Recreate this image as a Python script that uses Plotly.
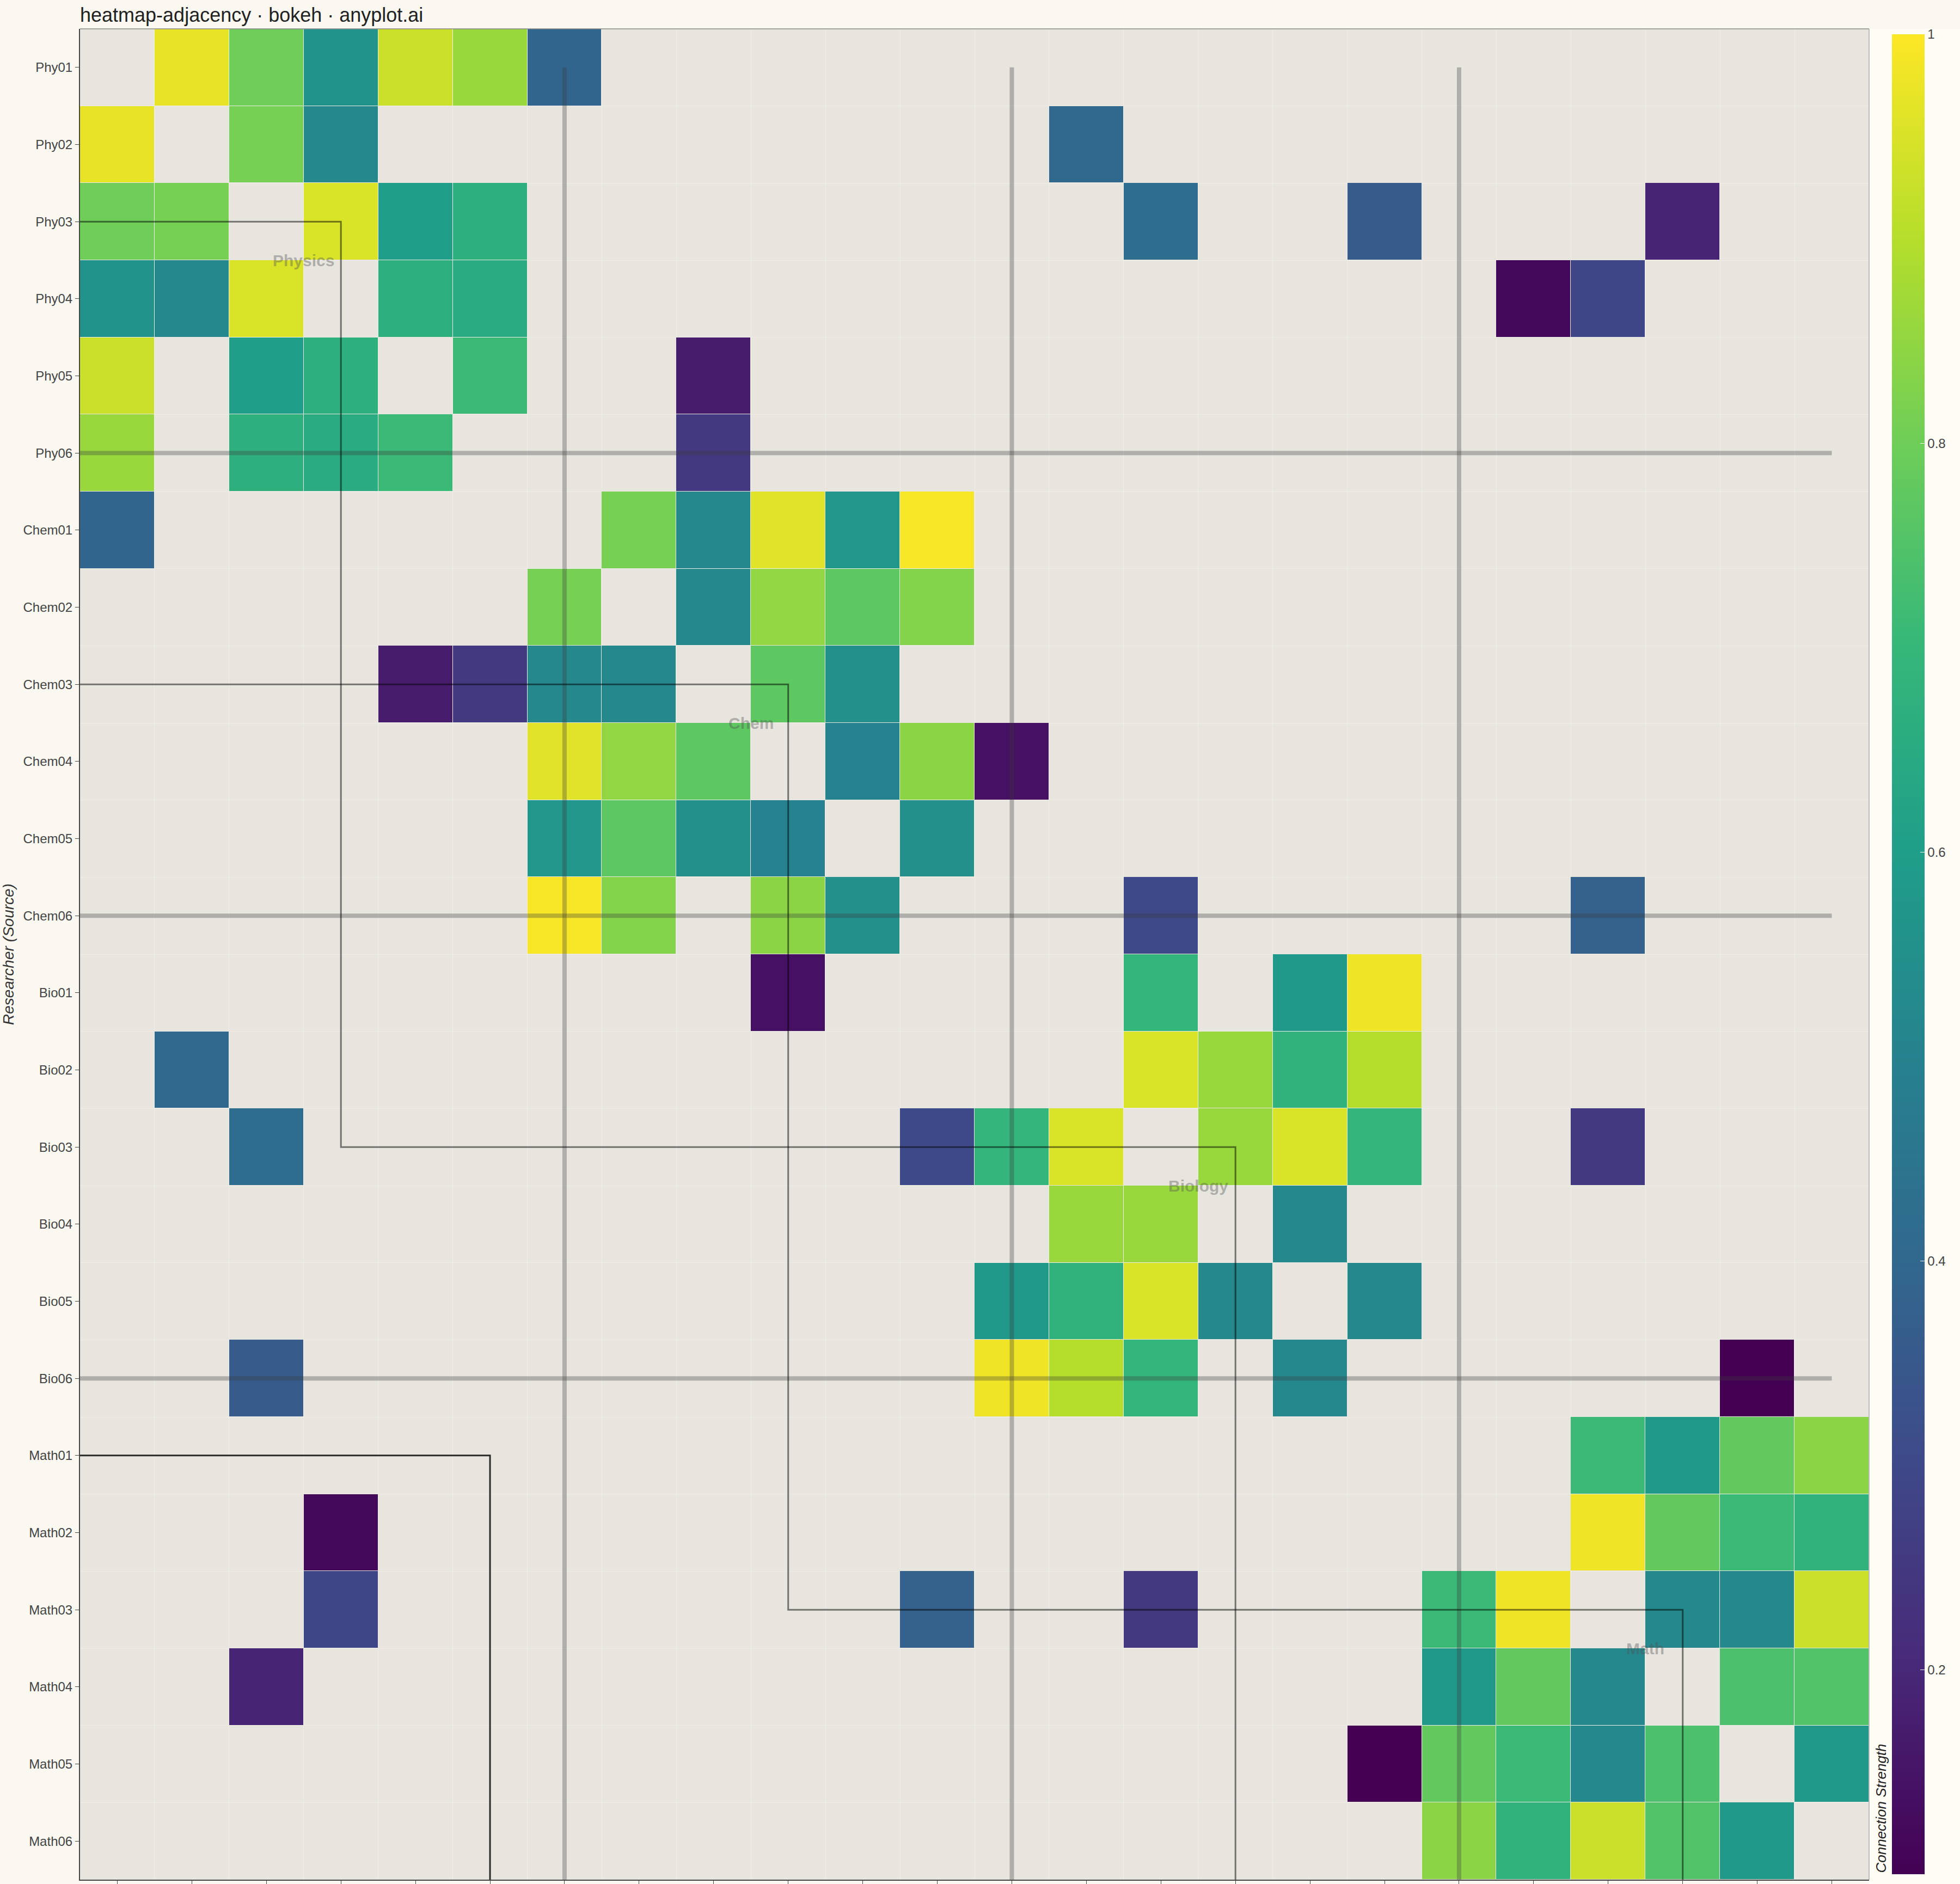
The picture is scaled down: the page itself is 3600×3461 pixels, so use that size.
import numpy as np
import plotly.graph_objects as go

# researchers grouped by department (6 each)
researchers = [
    "Phy01", "Phy02", "Phy03", "Phy04", "Phy05", "Phy06",
    "Chem01", "Chem02", "Chem03", "Chem04", "Chem05", "Chem06",
    "Bio01", "Bio02", "Bio03", "Bio04", "Bio05", "Bio06",
    "Math01", "Math02", "Math03", "Math04", "Math05", "Math06",
]
group_names = ["Physics", "Chem", "Biology", "Math"]
group_size = 6

# symmetric collaboration edges (upper triangle)
edge_source = [
    "Phy01", "Phy01", "Phy01", "Phy01", "Phy01", "Phy01",
    "Phy02", "Phy02", "Phy02",
    "Phy03", "Phy03", "Phy03", "Phy03", "Phy03", "Phy03",
    "Phy04", "Phy04", "Phy04", "Phy04",
    "Phy05", "Phy05", "Phy06",
    "Chem01", "Chem01", "Chem01", "Chem01", "Chem01",
    "Chem02", "Chem02", "Chem02", "Chem02",
    "Chem03", "Chem03",
    "Chem04", "Chem04", "Chem04",
    "Chem05", "Chem06", "Chem06",
    "Bio01", "Bio01", "Bio01",
    "Bio02", "Bio02", "Bio02", "Bio02",
    "Bio03", "Bio03", "Bio03", "Bio03",
    "Bio04", "Bio05", "Bio06",
    "Math01", "Math01", "Math01", "Math01",
    "Math02", "Math02", "Math02", "Math02",
    "Math03", "Math03", "Math03",
    "Math04", "Math04", "Math05",
]
edge_target = [
    "Phy02", "Phy03", "Phy04", "Phy05", "Phy06", "Chem01",
    "Phy03", "Phy04", "Bio02",
    "Phy04", "Phy05", "Phy06", "Bio03", "Bio06", "Math04",
    "Phy05", "Phy06", "Math02", "Math03",
    "Phy06", "Chem03", "Chem03",
    "Chem02", "Chem03", "Chem04", "Chem05", "Chem06",
    "Chem03", "Chem04", "Chem05", "Chem06",
    "Chem04", "Chem05",
    "Chem05", "Chem06", "Bio01",
    "Chem06", "Bio03", "Math03",
    "Bio03", "Bio05", "Bio06",
    "Bio03", "Bio04", "Bio05", "Bio06",
    "Bio04", "Bio05", "Bio06", "Math03",
    "Bio05", "Bio06", "Math05",
    "Math03", "Math04", "Math05", "Math06",
    "Math03", "Math04", "Math05", "Math06",
    "Math04", "Math05", "Math06",
    "Math05", "Math06", "Math06",
]
edge_strength = [
    0.97, 0.80, 0.56, 0.93, 0.86, 0.39,
    0.81, 0.52, 0.40,
    0.95, 0.60, 0.67, 0.42, 0.36, 0.19,
    0.67, 0.65, 0.12, 0.29,
    0.71, 0.17, 0.25,
    0.81, 0.52, 0.96, 0.57, 0.99,
    0.52, 0.85, 0.77, 0.83,
    0.77, 0.55,
    0.50, 0.84, 0.14,
    0.55, 0.30, 0.38,
    0.69, 0.58, 0.98,
    0.95, 0.86, 0.68, 0.90,
    0.86, 0.95, 0.69, 0.25,
    0.52, 0.52, 0.10,
    0.71, 0.58, 0.78, 0.84,
    0.98, 0.78, 0.71, 0.68,
    0.52, 0.52, 0.93,
    0.74, 0.75, 0.58,
]

n = len(researchers)
idx = {name: i for i, name in enumerate(researchers)}
matrix = np.full((n, n), np.nan)
for s, t, w in zip(edge_source, edge_target, edge_strength):
    matrix[idx[s], idx[t]] = w
    matrix[idx[t], idx[s]] = w

W, H = 3600, 3461
ml, mr, mt, mb = 147, 167, 53, 8
pw, ph = W - ml - mr, H - mt - mb
font = "Liberation Sans, Arial, Helvetica, sans-serif"

fig = go.Figure()
fig.add_trace(go.Heatmap(
    z=matrix,
    x=list(range(n)),
    y=list(range(n)),
    colorscale="Viridis",
    zmin=0.1, zmax=1.0,
    xgap=1, ygap=1,
    hoverongaps=False,
    colorbar=dict(
        x=1 + 42 / pw, xanchor="left", xpad=0,
        y=1 - 10 / ph, yanchor="top", ypad=0,
        len=3380, lenmode="pixels",
        thickness=60, outlinewidth=0,
        tickvals=[0.2, 0.4, 0.6, 0.8, 1.0],
        ticktext=["0.2", "0.4", "0.6", "0.8", "1"],
        ticks="inside", ticklen=8, tickcolor="white",
        tickfont=dict(size=24, color="#444", family=font),
    ),
))

shapes = []
# light panel behind the colour bar
shapes.append(dict(type="rect", xref="paper", yref="paper", x0=1, x1=1 + mr / pw,
                   y0=-mb / ph, y1=1, fillcolor="#FFFDF6", line=dict(width=0), layer="below"))

# group separators (drawn as in the source image)
for k in range(1, len(group_names)):
    b = k * group_size
    shapes.append(dict(type="line", xref="x", yref="y", x0=b, x1=b, y0=0, y1=n - 0.5,
                       line=dict(color="rgba(60,60,60,0.32)", width=8)))
    shapes.append(dict(type="line", xref="x", yref="y", x0=-0.5, x1=n - 1, y0=b - 1, y1=b - 1,
                       line=dict(color="rgba(60,60,60,0.32)", width=8)))

# block outlines
outline_paths = [
    [(-0.5, 2), (3, 2), (3, 14), (15, 14), (15, 23.5)],
    [(-0.5, 8), (9, 8), (9, 20), (21, 20), (21, 23.5)],
    [(-0.5, 18), (5, 18), (5, 23.5)],
]
outline_alpha = [0.5, 0.5, 0.82]
for pts, a in zip(outline_paths, outline_alpha):
    path = "M " + " L ".join(f"{x},{y}" for x, y in pts)
    shapes.append(dict(type="path", xref="x", yref="y", path=path,
                       line=dict(color=f"rgba(0,0,0,{a})", width=3)))

# top / right frame
shapes.append(dict(type="line", xref="paper", yref="paper", x0=0, x1=1, y0=1, y1=1,
                   line=dict(color="#888", width=1.5)))
shapes.append(dict(type="line", xref="paper", yref="paper", x0=1, x1=1, y0=0, y1=1,
                   line=dict(color="#aaa", width=1.5)))

annotations = []
for g, name in enumerate(group_names):
    c = g * group_size + (group_size - 1) / 2
    annotations.append(dict(x=c, y=c, xref="x", yref="y", text=name, showarrow=False,
                            font=dict(size=30, color="rgba(80,80,80,0.4)", family=font, weight="bold")))
annotations.append(dict(
    x=1 + 38 / pw, xref="paper", xanchor="right",
    y=10 / ph, yref="paper", yanchor="bottom",
    text="Connection Strength", textangle=-90, showarrow=False,
    font=dict(size=26, color="#222", family=font, style="italic"),
))

fig.update_layout(
    width=W, height=H,
    margin=dict(l=ml, r=mr, t=mt, b=mb, autoexpand=False),
    paper_bgcolor="#FAF8F1",
    plot_bgcolor="#E8E5DF",
    title=dict(text="heatmap-adjacency · bokeh · anyplot.ai", x=ml / W, xanchor="left",
               y=1 - 15 / H, yanchor="top", font=dict(size=36, color="#222", family=font)),
    xaxis=dict(
        range=[-0.5, n - 0.5], tickvals=list(range(n)), showticklabels=False,
        ticks="outside", ticklen=7, tickcolor="#444", showgrid=False, zeroline=False,
        showline=True, linecolor="#444", linewidth=2,
        minor=dict(tickmode="linear", tick0=0.5, dtick=1, showgrid=True,
                   gridcolor="rgba(255,255,255,0.3)", gridwidth=1, ticks=""),
    ),
    yaxis=dict(
        range=[n - 0.5, -0.5], tickvals=list(range(n)), ticktext=researchers,
        ticks="outside", ticklen=7, tickcolor="#444", showgrid=False, zeroline=False,
        showline=True, linecolor="#444", linewidth=2,
        tickfont=dict(size=24, color="#444", family=font),
        title=dict(text="Researcher (Source)", standoff=14,
                   font=dict(size=28, color="#333", family=font, style="italic")),
        minor=dict(tickmode="linear", tick0=0.5, dtick=1, showgrid=True,
                   gridcolor="rgba(255,255,255,0.3)", gridwidth=1, ticks=""),
    ),
    shapes=shapes,
    annotations=annotations,
)

fig.write_html("out.html", config={"displayModeBar": False},
               post_script="document.body.style.margin='0';")
